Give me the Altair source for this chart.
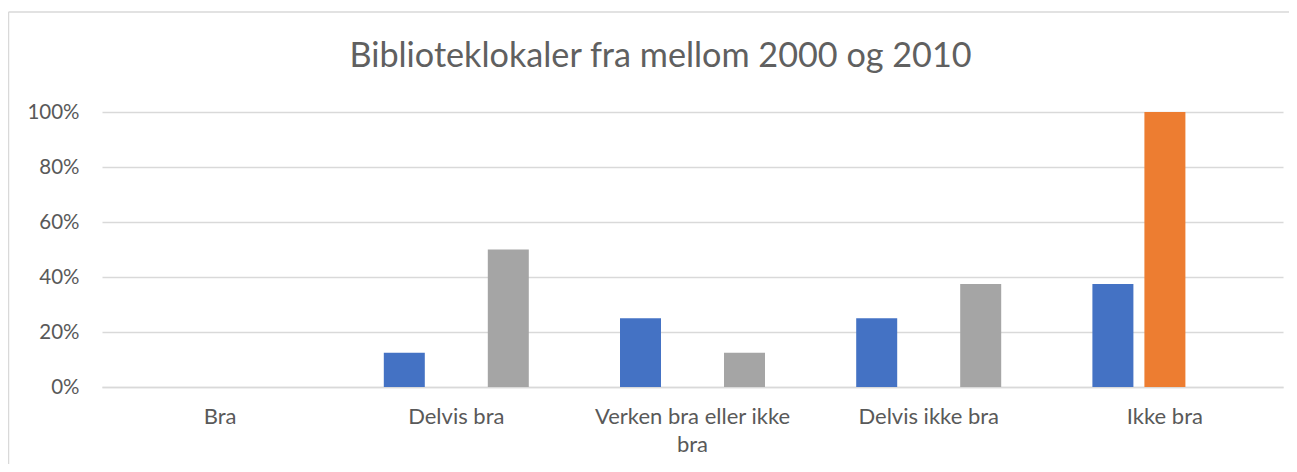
import altair as alt
import pandas as pd

categories = ["Bra", "Delvis bra", "Verken bra eller ikke bra", "Delvis ikke bra", "Ikke bra"]
series_names = ["Serie 1", "Serie 2", "Serie 3"]
serie1 = [0.0, 0.125, 0.25, 0.25, 0.375]
serie2 = [0.0, 0.0, 0.0, 0.0, 1.0]
serie3 = [0.0, 0.5, 0.125, 0.375, 0.0]
colors = ["#4472C4", "#ED7D31", "#A5A5A5"]
title_text = "Biblioteklokaler fra mellom 2000 og 2010"

rows = []
for s_name, vals in zip(series_names, [serie1, serie2, serie3]):
    for c, v in zip(categories, vals):
        rows.append({"kategori": c, "serie": s_name, "verdi": v})
df = pd.DataFrame(rows)

FONT = "Lato"
TXT = "#595959"

bars = alt.Chart(df).mark_bar().encode(
    x=alt.X("kategori:N", sort=categories, title=None,
            scale=alt.Scale(paddingInner=0, paddingOuter=0),
            axis=alt.Axis(labelAngle=0, ticks=False, domain=True, domainColor="#d9d9d9",
                          domainWidth=1.3, labelFont=FONT, labelFontSize=22, labelColor=TXT,
                          labelPadding=19, labelLineHeight=28, labelLimit=300,
                          labelExpr="datum.label == 'Verken bra eller ikke bra' ? ['Verken bra eller ikke', 'bra'] : datum.label")),
    xOffset=alt.XOffset("serie:N", sort=series_names,
                        scale=alt.Scale(paddingInner=0.2115, paddingOuter=0.877)),
    y=alt.Y("verdi:Q", title=None,
            scale=alt.Scale(domain=[0, 1], nice=False),
            axis=alt.Axis(format=".0%", values=[0, 0.2, 0.4, 0.6, 0.8, 1.0], ticks=False,
                          domain=False, grid=True, gridColor="#d9d9d9", gridWidth=1.3,
                          labelFont=FONT, labelFontSize=20.5, labelColor=TXT, labelPadding=23)),
    color=alt.Color("serie:N", sort=series_names,
                    scale=alt.Scale(domain=series_names, range=colors), legend=None),
)

frame_df = pd.DataFrame({"a": [0]})
title_mark = alt.Chart(frame_df).mark_text(
    font=FONT, fontSize=34.2, fontWeight="normal", color="#606060", align="center", baseline="alphabetic"
).encode(x=alt.value(558.5), y=alt.value(-45), text=alt.value(title_text))

frame_left = alt.Chart(frame_df).mark_rule(color="#d9d9d9", strokeWidth=1.5).encode(
    x=alt.value(-93.5), y=alt.value(-100), y2=alt.value(360))
frame_top = alt.Chart(frame_df).mark_rule(color="#d9d9d9", strokeWidth=1.5).encode(
    x=alt.value(-93.5), x2=alt.value(1195), y=alt.value(-100))
outer_top = alt.Chart(frame_df).mark_rule(color="#e3e3e3", strokeWidth=1.5).encode(
    x=alt.value(-102), x2=alt.value(1195), y=alt.value(-105.5))
outer_left = alt.Chart(frame_df).mark_rule(color="#e3e3e3", strokeWidth=1.5).encode(
    x=alt.value(-95), y=alt.value(-112), y2=alt.value(-105.5))

chart = alt.layer(bars, title_mark, frame_left, frame_top, outer_top, outer_left).properties(
    width=1181, height=275,
    autosize=alt.AutoSizeParams(type="none"),
    padding={"left": 94, "top": 104, "right": 6, "bottom": 77},
).configure(background="white").configure_view(strokeWidth=0, stroke="transparent")

chart.save("out.html", embed_options={"renderer": "svg", "actions": False})
